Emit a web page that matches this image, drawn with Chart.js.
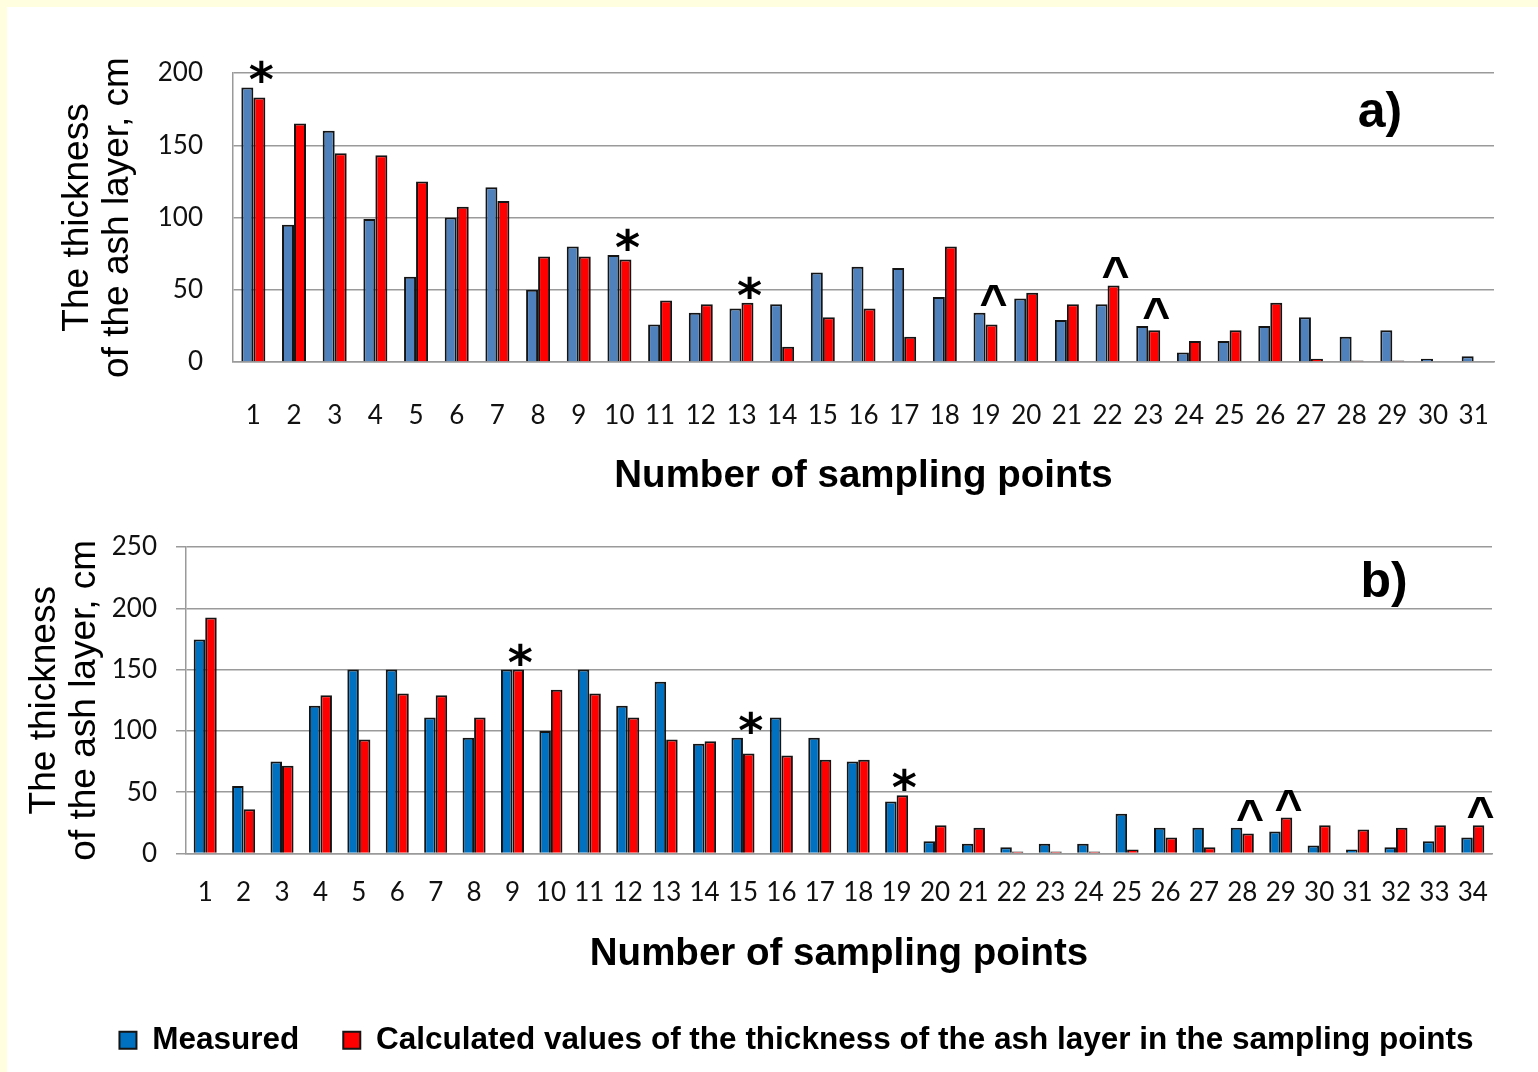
<!DOCTYPE html>
<html>
<head>
<meta charset="utf-8">
<title>Thickness of the ash layer</title>
<script src="https://cdn.jsdelivr.net/npm/chart.js@4.4.1/dist/chart.umd.min.js"></script>
<style>
  html, body { margin: 0; padding: 0; }
  body { width: 1538px; height: 1072px; overflow: hidden; background: #ffffe0; position: relative; }
  #sheet { position: absolute; left: 7px; top: 7px; right: 0; bottom: 0; background: #fff; }
  canvas { position: absolute; left: 0; }
  #chartA { top: 0; }
  #chartB { top: 505px; }
</style>
</head>
<body>
<div id="sheet"></div>
<canvas id="chartA" width="1538" height="510"></canvas>
<canvas id="chartB" width="1538" height="561"></canvas>
<script>
// Panel a) - 31 sampling points
const labelsA = ["1","2","3","4","5","6","7","8","9","10","11","12","13","14","15","16",
  "17","18","19","20","21","22","23","24","25","26","27","28","29","30","31"];
const measuredA = [190, 95, 160, 99, 59, 100, 121, 50, 80, 74, 26, 34, 37, 40, 62, 66,
  65, 45, 34, 44, 29, 40, 25, 6.5, 14.5, 25, 31, 17.5, 22, 2.3, 4];
const calculatedA = [183, 165, 144.5, 143, 125, 107.5, 111.5, 73, 73, 71, 42.5, 40, 41, 10.5, 31, 37,
  17.5, 80, 26, 48, 40, 53, 22, 14.5, 22, 41, 2.3, 1, 1, 0, 0];
const marksA = [[1, "*"], [10, "*"], [13, "*"], [19, "^"], [22, "^"], [23, "^"]];

// Panel b) - 34 sampling points
const labelsB = ["1","2","3","4","5","6","7","8","9","10","11","12","13","14","15","16","17",
  "18","19","20","21","22","23","24","25","26","27","28","29","30","31","32","33","34"];
const measuredB = [174.5, 55, 75, 120.5, 150, 150, 111, 94.5, 150, 100, 150, 120.5, 140, 89.5, 94.5, 111, 94.5,
  75, 42.5, 10, 8, 5, 8, 8, 32.5, 21, 21, 21, 18, 6.5, 3.3, 5, 10, 13];
const calculatedB = [192.5, 36, 71.5, 129, 93, 130.5, 129, 111, 150, 133.5, 130.5, 111, 93, 91.5, 81.5, 80, 76.5,
  76.5, 47.5, 23, 21, 1.6, 1.6, 1.6, 3.3, 13, 5, 16.3, 29.3, 23, 19.5, 21, 23, 23];
const marksB = [[9, "*"], [15, "*"], [19, "*"], [28, "^"], [29, "^"], [34, "^"]];

const seriesNames = ["Measured", "Calculated values of the thickness of the ash layer in the sampling points"];

const GRID = "#9a9a9a";
const TICK_FONT = { family: "Lato", size: 26 };
const TITLE_FONT = { family: "Liberation Sans", size: 37, lineHeight: 1.08 };
const XTITLE_FONT = { family: "Liberation Sans", size: 38.5, weight: "bold", lineHeight: 1.2 };

// stars / carets over bars, plus the a) b) panel letters
const marksPlugin = {
  id: "marks",
  afterDatasetsDraw(chart, args, opts) {
    const ctx = chart.ctx;
    const blue = chart.getDatasetMeta(0).data;
    const red = chart.getDatasetMeta(1).data;
    ctx.save();
    ctx.fillStyle = "#000";
    ctx.textAlign = "center";
    ctx.textBaseline = "alphabetic";
    (opts.items || []).forEach(([n, sym]) => {
      const i = n - 1;
      const top = Math.min(blue[i].y, red[i].y);
      const star = sym === "*";
      ctx.font = star ? 'bold 48px "DejaVu Sans"' : 'bold 48px "Liberation Sans"';
      const m = ctx.measureText(sym);
      ctx.fillText(sym, red[i].x + 2, top - (star ? 4 : 7) - m.actualBoundingBoxDescent);
    });
    if (opts.panel) {
      ctx.font = 'bold 50px "Liberation Sans"';
      const ca = chart.chartArea;
      ctx.fillText(opts.panel, ca.right - opts.panelDx, ca.top + opts.panelDy);
    }
    ctx.restore();
  }
};

// move the shared legend to where it sits in the figure
const shiftLegend = {
  id: "shiftLegend",
  afterLayout(chart, args, opts) {
    const lg = chart.legend;
    if (!lg || !opts.dx) return;
    lg.left += opts.dx;
    lg.right += opts.dx;
  }
};

function makeChart(id, cfg) {
  return new Chart(document.getElementById(id), {
    type: "bar",
    data: {
      labels: cfg.labels,
      datasets: [
        { label: seriesNames[0], data: cfg.measured, backgroundColor: cfg.blue,
          borderColor: "#141414", borderWidth: 2 },
        { label: seriesNames[1], data: cfg.calculated, backgroundColor: "#ff0000",
          borderColor: "#141414", borderWidth: 2 }
      ]
    },
    options: {
      responsive: false,
      animation: false,
      layout: { padding: cfg.padding },
      datasets: { bar: { barPercentage: 1, categoryPercentage: cfg.catPct } },
      scales: {
        x: {
          grid: { display: false, drawTicks: false },
          border: { display: true, color: GRID, width: 1.5 },
          ticks: { font: TICK_FONT, color: "#111", padding: cfg.xTickPad, autoSkip: false, maxRotation: 0 },
          title: { display: true, text: "Number of sampling points", font: XTITLE_FONT, color: "#000",
            padding: { top: 0, bottom: 3 } },
          afterFit: (s) => { s.height = cfg.xHeight; }
        },
        y: {
          min: 0,
          max: cfg.yMax,
          grid: { color: GRID, lineWidth: 1.5, drawTicks: cfg.yTicks, tickLength: 10 },
          border: { display: true, color: GRID, width: 1.5 },
          ticks: { stepSize: 50, font: TICK_FONT, color: "#111", padding: cfg.yTickPad },
          title: { display: true, text: ["The thickness", "of the ash layer, cm"], font: TITLE_FONT,
            color: "#000", padding: { top: cfg.yTitlePad, bottom: 0 } },
          afterFit: (s) => { s.width = cfg.yWidth; }
        }
      },
      plugins: {
        legend: {
          display: cfg.legend,
          position: "bottom",
          labels: { font: { family: "Liberation Sans", size: 31.5, weight: "bold" }, color: "#000",
            boxWidth: 17, boxHeight: 17, padding: 44 }
        },
        tooltip: { enabled: false },
        marks: { items: cfg.marks, panel: cfg.panel, panelDx: cfg.panelDx, panelDy: cfg.panelDy },
        shiftLegend: { dx: cfg.legendDx }
      }
    },
    plugins: [marksPlugin, shiftLegend]
  });
}

makeChart("chartA", {
  labels: labelsA, measured: measuredA, calculated: calculatedA, marks: marksA,
  blue: "#4f81bd", yMax: 200, catPct: 0.59,
  padding: { left: 5, right: 44, top: 73, bottom: 8 },
  yWidth: 228, yTitlePad: 53, yTickPad: 30, yTicks: false,
  xHeight: 140, xTickPad: 38,
  legend: false, legendDx: 0,
  panel: "a)", panelDx: 114, panelDy: 54
});

makeChart("chartB", {
  labels: labelsB, measured: measuredB, calculated: calculatedB, marks: marksB,
  blue: "#0070c0", yMax: 250, catPct: 0.6,
  padding: { left: 5, right: 46, top: 42, bottom: 0 },
  yWidth: 181, yTitlePad: 20, yTickPad: 19, yTicks: true,
  xHeight: 127, xTickPad: 24,
  legend: true, legendDx: 48,
  panel: "b)", panelDx: 108, panelDy: 50
});
</script>
</body>
</html>
